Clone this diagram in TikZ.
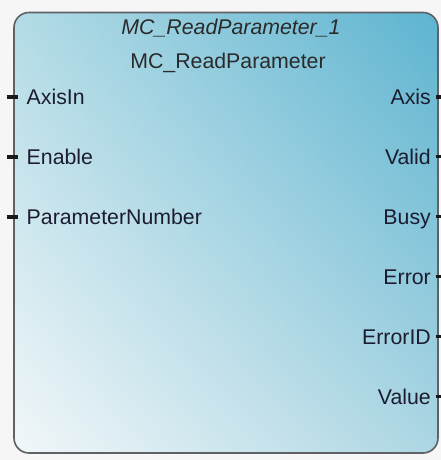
\documentclass[tikz,border=0pt]{standalone}
\usepackage{fontspec}
\setmainfont{Liberation Sans}
\usetikzlibrary{shadings}
\definecolor{bgc}{HTML}{F6F6F6}
\definecolor{tlc}{HTML}{B3DBE6}
\definecolor{trc}{HTML}{5DB4D0}
\definecolor{blc}{HTML}{F2F7F9}
\definecolor{brc}{HTML}{ACD6E3}
\definecolor{borderc}{HTML}{5E6266}
\definecolor{labelc}{HTML}{1C1C30}
\definecolor{titlec}{HTML}{2A2A2A}
\begin{document}
\begin{tikzpicture}[x=1pt,y=1pt,
  lbl/.style={font=\fontsize{21.3}{25}\selectfont, text=labelc, inner sep=0pt},
  ttl/.style={font=\fontsize{21.3}{25}\selectfont, text=titlec, inner sep=0pt, anchor=base},
  pinline/.style={line width=3.4pt, draw=black!90}]
\useasboundingbox (0,0) rectangle (441,460);
\fill[bgc] (0,0) rectangle (441,460);
\shade[rounded corners=15pt, upper left=tlc, upper right=trc, lower left=blc, lower right=brc] (14,7) rectangle (438,447.5);
\draw[borderc, line width=1.6pt, rounded corners=15pt] (14,7) rectangle (438,447.5);
% titles
\node[ttl] (inst) at (231,425) {\itshape MC\_ReadParameter\_1};
\node[ttl] (type) at (228,391.5) {MC\_ReadParameter};
% inputs
\node[lbl, anchor=base west] (axisin) at (26.5,355.5) {AxisIn};
\node[lbl, anchor=base west] (enable) at (26.5,295.5) {Enable};
\node[lbl, anchor=base west] (parnum) at (26.5,235.5) {ParameterNumber};
% outputs
\node[lbl, anchor=base east] (axis) at (431,355.5) {Axis};
\node[lbl, anchor=base east] (valid) at (431,295.5) {Valid};
\node[lbl, anchor=base east] (busy) at (431,235.5) {Busy};
\node[lbl, anchor=base east] (error) at (431,175.5) {Error};
\node[lbl, anchor=base east] (errorid) at (431,115.5) {ErrorID};
\node[lbl, anchor=base east] (value) at (431,55.5) {Value};
% input pins
\foreach \n/\y in {a/363,b/303,c/243}{
  \coordinate (li\n) at (6.5,\y);
  \coordinate (lo\n) at (18,\y);
  \draw[pinline] (li\n) -- (lo\n);
}
% output pins
\foreach \n/\y in {a/363,b/303.5,c/243.5,d/183.5,e/123.5,f/63.5}{
  \coordinate (ri\n) at (435.5,\y);
  \coordinate (ro\n) at (441,\y);
  \draw[pinline] (ri\n) -- (ro\n);
}
\end{tikzpicture}
\end{document}
